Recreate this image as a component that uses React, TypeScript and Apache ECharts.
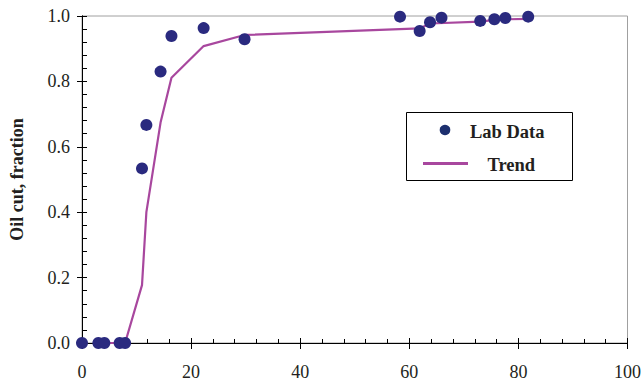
import React, { useEffect, useRef } from "react";
import * as echarts from "echarts";

const labX = [0, 3.0, 4.1, 6.9, 7.9, 11.0, 11.8, 14.4, 16.4, 22.3, 29.8, 58.3, 61.9, 63.8, 65.9, 73.0, 75.6, 77.6, 81.8];
const labY = [0, 0, 0, 0, 0, 0.534, 0.667, 0.83, 0.939, 0.963, 0.929, 0.998, 0.954, 0.981, 0.995, 0.985, 0.99, 0.994, 0.998];
const trendX = [4.2, 7.9, 11.0, 11.8, 14.4, 16.4, 22.3, 29.8, 61.9, 63.8, 73.0, 75.6, 77.6, 81.8];
const trendY = [0, 0, 0.177, 0.4, 0.674, 0.811, 0.908, 0.942, 0.962, 0.977, 0.983, 0.988, 0.99, 0.991];

const FONT = "Liberation Serif";
const TXT = "#231f20";
const DOT = "#2a2a7f";
const LINE = "#a8479e";

export default function App() {
  const ref = useRef<HTMLDivElement>(null);
  useEffect(() => {
    const chart = echarts.init(ref.current!, undefined, { renderer: "svg" });
    const baseX = {
      type: "value",
      min: 0,
      max: 100,
      interval: 20,
      position: "bottom",
      splitLine: { show: false },
      axisLine: { show: true, lineStyle: { color: "#000", width: 1 } },
    };
    const baseY = {
      type: "value",
      min: 0,
      max: 1,
      interval: 0.2,
      position: "left",
      splitLine: { show: false },
      axisLine: { show: true, lineStyle: { color: "#000", width: 1 } },
    };
    chart.setOption({
      animation: false,
      backgroundColor: "#fff",
      grid: {
        left: 81,
        right: 14,
        top: 16,
        bottom: 40,
        show: true,
        borderColor: "#a0a0a0",
        borderWidth: 1,
        backgroundColor: "transparent",
      },
      xAxis: [
        {
          ...baseX,
          axisTick: { show: true, inside: false, length: 6, lineStyle: { color: "#000" } },
          axisLabel: { color: TXT, fontFamily: FONT, fontSize: 18, margin: 20 },
        },
        {
          ...baseX,
          axisTick: { show: true, inside: true, length: 5, lineStyle: { color: "#000" } },
          minorTick: { show: true, splitNumber: 5, length: 4, lineStyle: { color: "#000" } },
          axisLabel: { show: false },
        },
      ],
      yAxis: [
        {
          ...baseY,
          axisTick: { show: true, inside: false, length: 5, lineStyle: { color: "#000" } },
          axisLabel: {
            color: TXT,
            fontFamily: FONT,
            fontSize: 18,
            margin: 12,
            formatter: (v: number) => v.toFixed(1),
          },
          name: "Oil cut, fraction",
          nameLocation: "middle",
          nameGap: 56,
          nameTextStyle: { color: TXT, fontFamily: FONT, fontSize: 18, fontWeight: "bold" },
        },
        {
          ...baseY,
          axisTick: { show: true, inside: true, length: 5, lineStyle: { color: "#000" } },
          minorTick: { show: true, splitNumber: 5, length: 5, lineStyle: { color: "#000" } },
          axisLabel: { show: false },
        },
      ],
      graphic: [
        {
          type: "rect",
          shape: { x: 406.5, y: 112.5, width: 166, height: 68 },
          style: { fill: "#fff", stroke: "#000", lineWidth: 1 },
          z: 10,
        },
        {
          type: "circle",
          shape: { cx: 445, cy: 130, r: 5.3 },
          style: { fill: "#1c2f6e" },
          z: 11,
        },
        {
          type: "text",
          style: {
            x: 470,
            y: 131.5,
            text: "Lab Data",
            fill: TXT,
            fontFamily: FONT,
            fontSize: 18.5,
            fontWeight: "bold",
            verticalAlign: "middle",
          },
          z: 11,
        },
        {
          type: "line",
          shape: { x1: 423, y1: 163.5, x2: 468, y2: 163.5 },
          style: { stroke: LINE, lineWidth: 3 },
          z: 11,
        },
        {
          type: "text",
          style: {
            x: 487.5,
            y: 165,
            text: "Trend",
            fill: TXT,
            fontFamily: FONT,
            fontSize: 18.5,
            fontWeight: "bold",
            verticalAlign: "middle",
          },
          z: 11,
        },
      ],
      series: [
        {
          name: "Trend",
          type: "line",
          data: trendX.map((x, i) => [x, trendY[i]]),
          showSymbol: false,
          symbol: "none",
          lineStyle: { color: LINE, width: 2.2 },
          itemStyle: { color: LINE },
          z: 2,
        },
        {
          name: "Lab Data",
          type: "scatter",
          data: labX.map((x, i) => [x, labY[i]]),
          symbol: "circle",
          symbolSize: 12,
          itemStyle: { color: DOT, opacity: 1 },
          z: 3,
        },
      ],
    });
    return () => chart.dispose();
  }, []);
  return (
    <div
      ref={ref}
      style={{ position: "fixed", left: 0, top: 0, width: 644, height: 383, background: "#fff" }}
    />
  );
}
